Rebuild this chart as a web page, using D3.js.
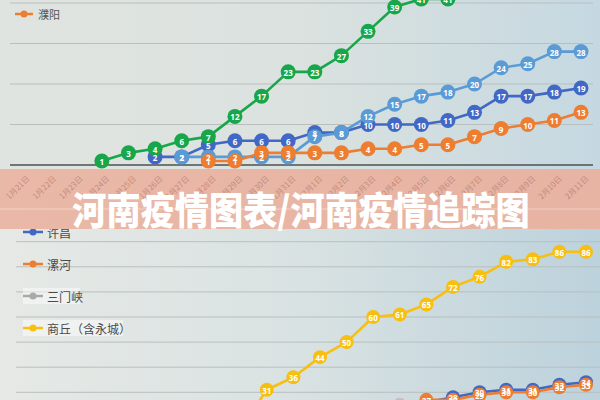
<!DOCTYPE html>
<html><head><meta charset="utf-8">
<script src="https://cdn.jsdelivr.net/npm/d3@7/dist/d3.min.js"></script>
<style>html,body{margin:0;padding:0;background:#fff;}svg{display:block;}</style>
</head><body>
<script>
const dates = ["1月21日","1月22日","1月23日","1月24日","1月25日","1月26日","1月27日","1月28日","1月29日","1月30日","1月31日",
  "2月1日","2月2日","2月3日","2月4日","2月5日","2月6日","2月7日","2月8日","2月9日","2月10日","2月11日"];
const N = null;
// top chart
const topGreen     = [N,N,N,1,3,4,6,7,12,17,23,23,27,33,39,41,41,N,N,N,N,N];
const topDarkBlue  = [N,N,N,N,N,2,2,5,6,6,6,8,8,10,10,10,11,13,17,17,18,19];
const topLightBlue = [N,N,N,N,N,N,2,2,2,2,2,7,8,12,15,17,18,20,24,25,28,28];
const puyang       = [N,N,N,N,N,N,N,1,1,3,3,3,3,4,4,5,5,7,9,10,11,13];
const topTicks = [0,10,20,30,40];
// bottom chart
const xuchang   = [N,N,N,N,N,N,N,N,N,N,N,N,N,N,N,26,28,30,31,31,33,34];
const luohe     = [N,N,N,N,N,N,N,N,N,N,N,N,N,N,24,27,27,29,30,30,32,33];
const sanmenxia = [N,N,N,N,N,N,N,N,N,N,N,N,N,N,25,25,N,N,N,N,N,N];
const shangqiu  = [N,N,N,N,N,N,N,N,15,31,36,44,50,60,61,65,72,76,82,83,86,86];
const botTicks = [30,40,50,60,70,80,90,100];
const legendTop = ["濮阳"];
const legendBot = ["许昌","漯河","三门峡","商丘（含永城）"];
const title = "河南疫情图表/河南疫情追踪图";

const C = {green:"#17a74a", dark:"#4168c4", light:"#5b9bd5", orange:"#ed7d31", gray:"#a9a9a9", yellow:"#f7bf10"};

const svg = d3.select("body").append("svg").attr("width",600).attr("height",400);
const defs = svg.append("defs");
function lg(id, stops){
  const g = defs.append("linearGradient").attr("id",id).attr("x1","0").attr("x2","1").attr("y1","0").attr("y2","0");
  stops.forEach(s=>g.append("stop").attr("offset",s[0]).attr("stop-color",s[1]));
}
lg("bgTop",[[0,"#e0e4e0"],[0.5,"#dbe2df"],[1,"#c5d8e1"]]);
lg("bgBot",[[0,"#e6e9e6"],[0.5,"#d9e2e2"],[1,"#bcd2dc"]]);
lg("ban",[[0,"#eab8a6"],[1,"#e7b3a3"]]);
defs.append("clipPath").attr("id","clipTop").append("rect").attr("x",0).attr("y",0).attr("width",600).attr("height",170);
defs.append("clipPath").attr("id","clipBot").append("rect").attr("x",0).attr("y",229).attr("width",600).attr("height",171);

svg.append("rect").attr("x",0).attr("y",0).attr("width",600).attr("height",170).attr("fill","url(#bgTop)");
svg.append("rect").attr("x",0).attr("y",170).attr("width",600).attr("height",230).attr("fill","url(#bgBot)");

function drawPanel(g, x, y, series, ticks, r, gridX0, gridX1, baseVal){
  const grid = g.append("g");
  ticks.forEach(t=>{
    grid.append("line").attr("x1",gridX0).attr("x2",gridX1).attr("y1",y(t)).attr("y2",y(t))
      .attr("stroke", t===baseVal ? "#4d5252" : "#b9bfbf").attr("stroke-width", t===baseVal?1.6:1);
  });
  const line = d3.line().defined(d=>d.v!==null).x(d=>x(d.k)).y(d=>y(d.v));
  const prep = s => s.vals.map((v,i)=>({k:dates[i], v}));
  series.forEach(s=>{
    g.append("path").datum(prep(s)).attr("d",line).attr("fill","none")
      .attr("stroke",s.color).attr("stroke-width",2.6).attr("stroke-linejoin","round");
  });
  series.forEach(s=>{
    g.append("g").selectAll("circle").data(prep(s).filter(d=>d.v!==null)).join("circle")
      .attr("cx",d=>x(d.k)).attr("cy",d=>y(d.v)).attr("r",r).attr("fill",s.color);
  });
  series.forEach(s=>{
    if(s.noLabel) return;
    g.append("g").selectAll("text").data(prep(s).filter(d=>d.v!==null)).join("text")
      .attr("x",d=>x(d.k)).attr("y",d=>y(d.v)+0.5).attr("text-anchor","middle").attr("dominant-baseline","central")
      .attr("font-family","'Open Sans','DejaVu Sans',sans-serif").attr("font-weight","700").attr("font-size",8)
      .attr("fill","#ffffff").text(d=>d.v);
  });
}

// top panel
const xTop = d3.scalePoint().domain(dates).range([22,581]);
const yTop = d3.scaleLinear().domain([0,40]).range([165,3]);
const gTop = svg.append("g").attr("clip-path","url(#clipTop)");
drawPanel(gTop, xTop, yTop, [
  {vals:topDarkBlue,color:C.dark},{vals:topLightBlue,color:C.light},
  {vals:puyang,color:C.orange},{vals:topGreen,color:C.green}], topTicks, 7.5, 10, 593, 0);
// top legend
const lt = svg.append("g");
legendTop.forEach((name,i)=>{
  lt.append("line").attr("x1",15).attr("x2",33).attr("y1",14).attr("y2",14).attr("stroke",C.orange).attr("stroke-width",2.5);
  lt.append("circle").attr("cx",24).attr("cy",14).attr("r",3.5).attr("fill",C.orange);
  lt.append("text").attr("x",38).attr("y",14).attr("dominant-baseline","central")
    .attr("font-family","'Noto Sans CJK SC',sans-serif").attr("font-size",11).attr("fill","#555").text(name);
});

// bottom panel
const xBot = d3.scalePoint().domain(dates).range([27.4,586]);
const yBot = d3.scaleLinear().domain([30,90]).range([392.3,241.7]);
const gBot = svg.append("g").attr("clip-path","url(#clipBot)");
drawPanel(gBot, xBot, yBot, [
  {vals:sanmenxia,color:"#cdbcb6",noLabel:true},{vals:xuchang,color:C.dark},{vals:luohe,color:C.orange},
  {vals:shangqiu,color:C.yellow}], botTicks, 7, 16, 600, null);
// bottom legend
const botColors = [C.dark, C.orange, C.gray, C.yellow];
const botY = [232, 264, 296, 328];
const lb = svg.append("g");
legendBot.forEach((name,i)=>{
  const yy = botY[i];
  if(i>=2){
    lb.append("rect").attr("x",23).attr("y",yy-8).attr("width", i===2?57:100).attr("height",16)
      .attr("fill","rgba(255,255,255,0.45)");
  }
  lb.append("line").attr("x1",23).attr("x2",43).attr("y1",yy).attr("y2",yy).attr("stroke",botColors[i]).attr("stroke-width",2.5);
  lb.append("circle").attr("cx",33).attr("cy",yy).attr("r",3.5).attr("fill",botColors[i]);
  lb.append("text").attr("x",47).attr("y",yy).attr("dominant-baseline","central")
    .attr("font-family","'Noto Sans CJK SC',sans-serif").attr("font-size",12).attr("fill","#4a4a4a").text(name);
});

// banner
svg.append("rect").attr("x",0).attr("y",169).attr("width",600).attr("height",60).attr("fill","url(#ban)");
svg.append("line").attr("x1",0).attr("x2",600).attr("y1",209).attr("y2",209).attr("stroke","rgba(255,235,225,0.35)").attr("stroke-width",1.5);
const axG = svg.append("g");
dates.forEach(d=>{
  axG.append("text").attr("transform",`translate(${xTop(d)+3},174) rotate(-45)`)
    .attr("text-anchor","end").attr("dominant-baseline","hanging")
    .attr("font-family","'Noto Sans CJK SC',sans-serif").attr("font-size",8)
    .attr("fill","rgba(160,100,85,0.55)").text(d);
});
svg.append("text").attr("transform","translate(301,207) scale(0.9,1)").attr("text-anchor","middle").attr("dominant-baseline","central")
  .attr("font-family","'Noto Sans CJK SC',sans-serif").attr("font-weight","900").attr("font-size",38)
  .attr("fill","#ffffff").text(title);
</script>
</body></html>
